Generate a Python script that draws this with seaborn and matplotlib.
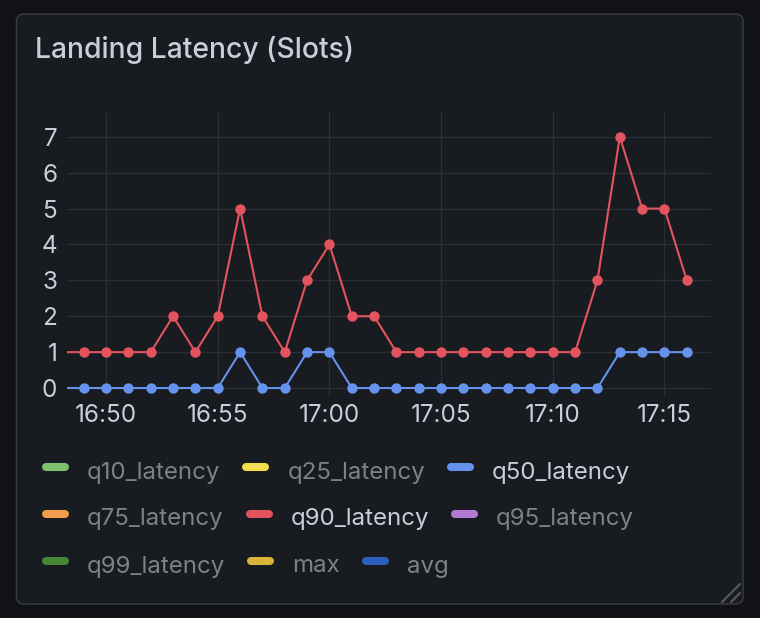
import pandas as pd
import matplotlib.pyplot as plt
import matplotlib.dates as mdates
import seaborn as sns
from matplotlib.patches import FancyBboxPatch
from matplotlib.lines import Line2D

# Data: one point per minute, 16:48 to 17:16.
times = pd.date_range("2024-01-01 16:48", "2024-01-01 17:16", freq="1min")
q50_latency = [0, 0, 0, 0, 0, 0, 0, 0, 1, 0, 0, 1, 1, 0, 0,
               0, 0, 0, 0, 0, 0, 0, 0, 0, 0, 1, 1, 1, 1]
q90_latency = [1, 1, 1, 1, 1, 2, 1, 2, 5, 2, 1, 3, 4, 2, 2,
               1, 1, 1, 1, 1, 1, 1, 1, 1, 3, 7, 5, 5, 3]

# Legend entries (Grafana series) and their colours.
legend_rows = [["q10_latency", "q25_latency", "q50_latency"],
               ["q75_latency", "q90_latency", "q95_latency"],
               ["q99_latency", "max", "avg"]]
series_colours = {"q10_latency": "#7fbf70", "q25_latency": "#f5dc4f",
                  "q50_latency": "#6492ec", "q75_latency": "#f59b4f",
                  "q90_latency": "#e3545f", "q95_latency": "#b47ad6",
                  "q99_latency": "#468637", "max": "#d8b53a",
                  "avg": "#2d5fc0"}
visible = ["q50_latency", "q90_latency"]

df = pd.DataFrame({"time": list(times) * 2,
                   "value": q50_latency + q90_latency,
                   "series": ["q50_latency"] * len(times)
                   + ["q90_latency"] * len(times)})

sns.set_theme(style="dark")
plt.rcParams["font.family"] = ["Inter", "DejaVu Sans"]

BG = "#111217"
PANEL = "#181b1f"
TEXT = "#ccccdc"
DIM = "#7f8089"
GRID = "#2c2e33"

W, H = 760, 618
fig = plt.figure(figsize=(W / 100, H / 100), dpi=100, facecolor=BG)

# Panel background.
panel = FancyBboxPatch((16.5 / W, 1 - 604 / H), 726.5 / W, 590 / H,
                       boxstyle="round,pad=0,rounding_size=0.011",
                       transform=fig.transFigure, facecolor=PANEL,
                       edgecolor="#36383e", linewidth=1.2, zorder=-1)
fig.patches.append(panel)

fig.text(35 / W, 1 - 58 / H, "Landing Latency (Slots)", color=TEXT,
         fontsize=20.4, va="baseline", ha="left", fontweight="medium")

ax = fig.add_axes([67 / W, 1 - 397 / H, 644 / W, 285 / H])
ax.set_facecolor(PANEL)

sns.lineplot(data=df, x="time", y="value", hue="series",
             palette=series_colours, marker="o", markersize=7.5,
             markeredgewidth=0, linewidth=1.5, legend=False, ax=ax)

ax.set_xlim(pd.Timestamp("2024-01-01 16:48:15"),
            pd.Timestamp("2024-01-01 17:17:05"))
ax.set_ylim(-0.25, 7.69)
ax.set_yticks(range(0, 8))
ax.xaxis.set_major_locator(mdates.MinuteLocator(byminute=range(0, 60, 5)))
ax.xaxis.set_major_formatter(mdates.DateFormatter("%H:%M"))
ax.set_xlabel("")
ax.set_ylabel("")
ax.grid(True, color=GRID, linewidth=0.9)
ax.tick_params(colors=TEXT, labelsize=17.5, length=0)
ax.tick_params(axis="y", pad=7)
ax.tick_params(axis="x", pad=5)
for spine in ax.spines.values():
    spine.set_visible(False)

# Grafana-style flow legend.
renderer = fig.canvas.get_renderer()
row_base = [478.5, 525.5, 572.5]
for names, yb in zip(legend_rows, row_base):
    x = 42
    ys = 1 - (yb - 11.5) / H
    for name in names:
        fig.lines.append(Line2D([(x + 4) / W, (x + 23) / W], [ys, ys],
                                transform=fig.transFigure, linewidth=5.8,
                                solid_capstyle="round",
                                color=series_colours[name]))
        colour = TEXT if name in visible else DIM
        t = fig.text((x + 45) / W, 1 - yb / H, name, color=colour,
                     fontsize=17.3, va="baseline", ha="left")
        w = t.get_window_extent(renderer).width
        x = x + 45 + w + 22

# Resize handle in the corner.
for x0, y1 in ((722, 584), (731, 593)):
    fig.lines.append(Line2D([x0 / W, 740 / W], [1 - 602 / H, 1 - y1 / H],
                            transform=fig.transFigure, color="#55575d",
                            linewidth=1.6, solid_capstyle="round"))

plt.savefig("out.png", dpi=100, facecolor=BG)
